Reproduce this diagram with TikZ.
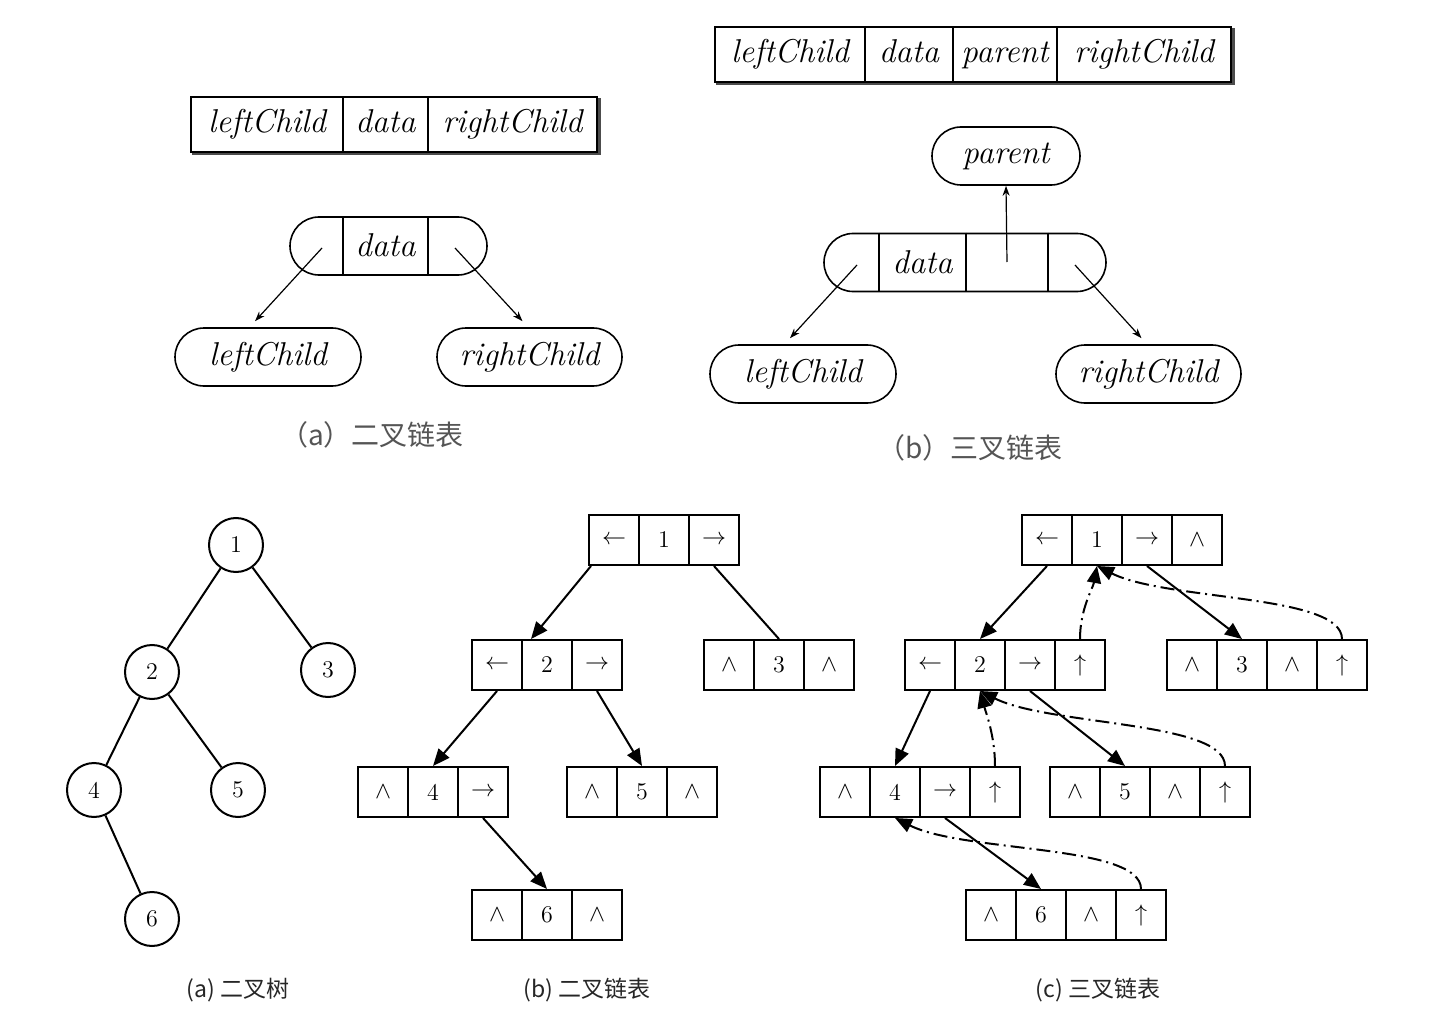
\documentclass[tikz,border=0pt]{standalone}
\usepackage{fontspec}
\newfontfamily\cjk{Noto Sans CJK SC}
\usetikzlibrary{arrows.meta,shapes.misc}

\definecolor{capgray}{RGB}{85,85,85}

\tikzset{
  field/.style={draw, line width=1.1pt, minimum height=27.5pt, inner sep=0pt,
    text height=11.5pt, text depth=3.5pt,
    font=\fontsize{16.5}{19}\selectfont\itshape},
  oval/.style={draw, rounded rectangle, line width=0.8pt, minimum height=29pt,
    inner sep=0pt, text height=11.5pt, text depth=3.5pt,
    font=\fontsize{16.5}{19}\selectfont\itshape},
  cell/.style={draw, line width=1pt, minimum size=25pt, inner sep=0pt,
    font=\fontsize{12}{14}\selectfont},
  tnode/.style={draw, circle, line width=1pt, minimum size=27pt, inner sep=0pt,
    font=\fontsize{12}{14}\selectfont},
  ptr/.style={line width=0.6pt, -{Stealth[length=5pt,width=3.5pt]}},
  link/.style={line width=1pt, -{Triangle[length=8.5pt,width=7pt]}},
  plink/.style={line width=1pt, dash pattern=on 7pt off 2.5pt on 1pt off 2.5pt,
    -{Triangle[length=8.5pt,width=7pt]}},
  shade/.style={line width=1.2pt, black!70},
  figcap/.style={font=\fontsize{14}{16}\selectfont\cjk, text=capgray},
  subcap/.style={font=\fontsize{11.5}{13}\selectfont\cjk, text=black!85},
}

% one record of equal cells: name, centre x of first cell, centre y, fields
\newcommand\rec[4]{%
  \foreach \f [count=\i] in {#4}
    \node[cell] (#1-\i) at ({#2+50*(\i-1)},#3) {\f};
}

\begin{document}
\begin{tikzpicture}[x=0.5pt, y=-0.5pt]
\useasboundingbox (0,0) rectangle (1442,1022);

% (a) binary node
\node[field, minimum width=76pt]   (ra1) at (267,124.5)   {leftChild};
\node[field, minimum width=42.5pt] (ra2) at (385.5,124.5) {data};
\node[field, minimum width=84.5pt] (ra3) at (512.5,124.5) {rightChild};
\draw[shade] ([shift={(1pt,-0.6pt)}]ra1.south west) -- ([shift={(0.6pt,-0.6pt)}]ra3.south east)
  -- ([shift={(0.6pt,-1pt)}]ra3.north east);

\node[oval, minimum width=98.5pt] (amid) at (388.5,246) {};
\draw[line width=0.8pt] (343,0 |- amid.north) -- (343,0 |- amid.south);
\draw[line width=0.8pt] (428,0 |- amid.north) -- (428,0 |- amid.south);
\node[font=\fontsize{16.5}{19}\selectfont\itshape] (adata) at (385.5,245) {data};

\node[oval, minimum width=93pt] (aleft)  at (268,357)   {leftChild};
\node[oval, minimum width=92.5pt] (aright) at (529.5,357) {rightChild};

\coordinate (al) at (322,248);
\coordinate (ar) at (455,248);
\draw[ptr] (al) -- ([xshift=-6.5pt,yshift=3pt]aleft.north);
\draw[ptr] (ar) -- ([xshift=-3.5pt,yshift=3pt]aright.north);

\node[figcap] (capa) at (372,435) {（a）二叉链表};

% (b) triple node
\node[field, minimum width=75pt] (rb1) at (790,54.5)  {leftChild};
\node[field, minimum width=44pt] (rb2) at (909,54.5)  {data};
\node[field, minimum width=52pt] (rb3) at (1005,54.5) {parent};
\node[field, minimum width=87pt] (rb4) at (1144,54.5) {rightChild};
\draw[shade] ([shift={(1pt,-0.6pt)}]rb1.south west) -- ([shift={(0.6pt,-0.6pt)}]rb4.south east)
  -- ([shift={(0.6pt,-1pt)}]rb4.north east);

\node[oval, minimum width=74pt] (bpar) at (1006,156) {parent};

\node[oval, minimum width=141pt] (bmid) at (965,262.5) {};
\foreach \x in {879,966,1048}
  \draw[line width=0.8pt] (\x,0 |- bmid.north) -- (\x,0 |- bmid.south);
\node[font=\fontsize{16.5}{19}\selectfont\itshape] (bdata) at (922.5,262) {data};

\node[oval, minimum width=93pt]   (bleft)  at (803,374)    {leftChild};
\node[oval, minimum width=92.5pt] (bright) at (1148.5,374) {rightChild};

\coordinate (bl) at (857,265);
\coordinate (bp) at (1007,262);
\coordinate (br) at (1075,265);
\draw[ptr] (bl) -- ([xshift=-6.5pt,yshift=3pt]bleft.north);
\draw[ptr] (br) -- ([xshift=-3.5pt,yshift=3pt]bright.north);
\draw[ptr] (bp) -- (bpar.south);

\node[figcap] (capb) at (970,448) {（b）三叉链表};

% binary tree
\node[tnode] (t1) at (236,545) {1};
\node[tnode] (t2) at (152,672) {2};
\node[tnode] (t3) at (328,670) {3};
\node[tnode] (t4) at (94,790)  {4};
\node[tnode] (t5) at (238,790) {5};
\node[tnode] (t6) at (152,919) {6};
\draw[line width=1pt] (t1) -- (t2) (t1) -- (t3) (t2) -- (t4) (t2) -- (t5) (t4) -- (t6);

\node[subcap] (capt) at (238,990) {(a) 二叉树};

% binary linked list
\rec{b1}{614}{540}{$\leftarrow$,1,$\rightarrow$}
\rec{b2}{497}{665}{$\leftarrow$,2,$\rightarrow$}
\rec{b3}{729}{665}{$\wedge$,3,$\wedge$}
\rec{b4}{383}{792}{$\wedge$,4,$\rightarrow$}
\rec{b5}{592}{792}{$\wedge$,5,$\wedge$}
\rec{b6}{497}{915}{$\wedge$,6,$\wedge$}

\draw[link] ([xshift=1.5pt]b1-1.south west) -- ([xshift=5pt]b2-2.north west);
\draw[line width=1pt] (b1-3.south) -- (b3-2.north);
\draw[link] (b2-1.south) -- (b4-2.north);
\draw[link] (b2-3.south) -- (b5-2.north);
\draw[link] (b4-3.south) -- (b6-2.north);

\node[subcap] (capbl) at (587,990) {(b) 二叉链表};

% triple linked list
\rec{c1}{1047}{540}{$\leftarrow$,1,$\rightarrow$,$\wedge$}
\rec{c2}{930}{665}{$\leftarrow$,2,$\rightarrow$,$\uparrow$}
\rec{c3}{1192}{665}{$\wedge$,3,$\wedge$,$\uparrow$}
\rec{c4}{845}{792}{$\wedge$,4,$\rightarrow$,$\uparrow$}
\rec{c5}{1075}{792}{$\wedge$,5,$\wedge$,$\uparrow$}
\rec{c6}{991}{915}{$\wedge$,6,$\wedge$,$\uparrow$}

\draw[link] (c1-1.south) -- (c2-2.north);
\draw[link] (c1-3.south) -- (c3-2.north);
\draw[link] (c2-1.south) -- (c4-2.north);
\draw[link] (c2-3.south) -- (c5-2.north);
\draw[link] (c4-3.south) -- (c6-2.north);

% parent pointers
\draw[plink] (c2-4.north) .. controls +(0,-30) and +(-4,22) .. (c1-2.south);
\draw[plink] (c3-4.north) .. controls +(0,-45) and +(70,35) .. (c1-2.south);
\draw[plink] (c4-4.north) .. controls +(0,-30) and +(6,22) .. (c2-2.south);
\draw[plink] (c5-4.north) .. controls +(0,-45) and +(70,35) .. (c2-2.south);
\draw[plink] (c6-4.north) .. controls +(0,-45) and +(70,35) .. (c4-2.south);

\node[subcap] (capc) at (1098,990) {(c) 三叉链表};

\end{tikzpicture}
\end{document}
